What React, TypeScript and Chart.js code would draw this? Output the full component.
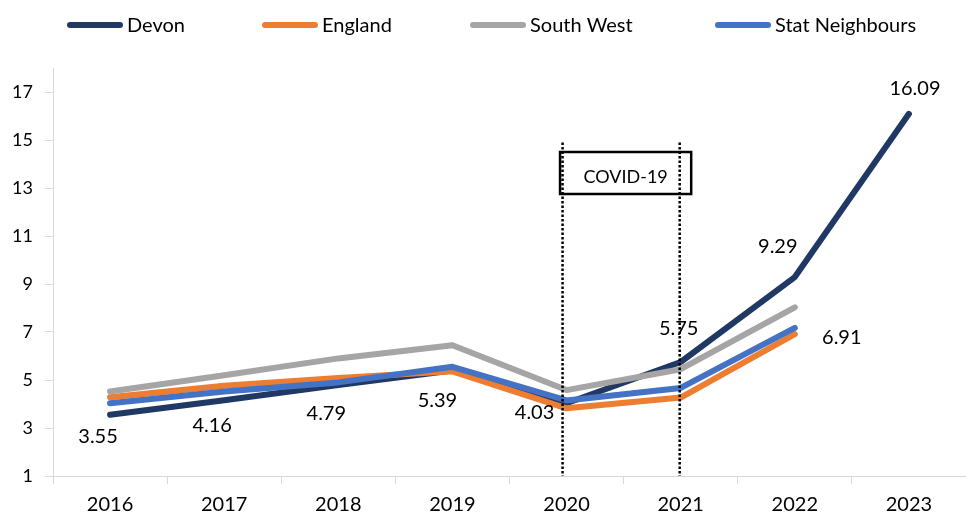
import React, { useEffect, useRef } from 'react';
import { Chart, registerables } from 'chart.js';

Chart.register(...registerables);

const years = ['2016', '2017', '2018', '2019', '2020', '2021', '2022', '2023'];
const devon = [3.55, 4.16, 4.79, 5.39, 4.03, 5.75, 9.29, 16.09];
const england = [4.28, 4.76, 5.08, 5.36, 3.82, 4.27, 6.91, null];
const southWest = [4.52, 5.2, 5.9, 6.45, 4.58, 5.45, 8.03, null];
const statNeighbours = [4.03, 4.52, 4.9, 5.55, 4.15, 4.67, 7.17, null];
const yTicks = [1, 3, 5, 7, 9, 11, 13, 15, 17];
const covidLabel = 'COVID-19';
const covidStart = 4; // index of 2020
const covidEnd = 5; // index of 2021

const FONT = 'Lato, "Open Sans", sans-serif';

export default function App() {
  const ref = useRef<HTMLCanvasElement>(null);

  useEffect(() => {
    document.body.style.margin = '0';
    const canvas = ref.current!;

    const legendStarts = [67, 262, 470, 715];
    const legendPlugin = {
      id: 'customLegend',
      afterDraw(chart: any) {
        const c = chart.ctx;
        c.save();
        c.font = `20px ${FONT}`;
        const y = 25;
        chart.data.datasets.forEach((d: any, i: number) => {
          const x = legendStarts[i];
          c.strokeStyle = d.borderColor;
          c.lineWidth = 6;
          c.lineCap = 'round';
          c.beginPath();
          c.moveTo(x + 3, y);
          c.lineTo(x + 53, y);
          c.stroke();
          c.fillStyle = '#000';
          c.textBaseline = 'middle';
          c.textAlign = 'left';
          c.fillText(d.label, x + 60, y + 1);
        });
        c.restore();
      },
    };

    const covidPlugin = {
      id: 'covid',
      afterDatasetsDraw(chart: any) {
        const c = chart.ctx;
        const xs = chart.scales.x;
        const ys = chart.scales.y;
        const x1 = xs.getPixelForValue(covidStart) - 4;
        const x2 = xs.getPixelForValue(covidEnd) - 1;
        const bottom = chart.chartArea.bottom;
        const top = ys.getPixelForValue(14.9);
        c.save();
        const bl = x1 - 2.5;
        const br = x2 + 11.5;
        const bt = ys.getPixelForValue(14.5);
        const bb = ys.getPixelForValue(12.75);
        c.strokeStyle = '#000';
        c.lineWidth = 2.5;
        c.setLineDash([]);
        c.strokeRect(bl, bt, br - bl, bb - bt);
        c.fillStyle = '#000';
        c.font = `18px ${FONT}`;
        c.textAlign = 'center';
        c.textBaseline = 'middle';
        c.fillText(covidLabel, (bl + br) / 2, (bt + bb) / 2 + 4);
        c.lineWidth = 2.5;
        c.setLineDash([2.5, 2]);
        [x1, x2].forEach((x) => {
          c.beginPath();
          c.moveTo(x, top);
          c.lineTo(x, bottom);
          c.stroke();
        });
        c.restore();
      },
    };

    const labelOffsets: [number, number][] = [
      [-12, 22], [-12, 25], [-12, 29], [-15, 30], [-32, 9], [-2, -33], [-17, -30], [6, -25],
    ];
    const labelsPlugin = {
      id: 'dataLabels',
      afterDatasetsDraw(chart: any) {
        const c = chart.ctx;
        c.save();
        c.font = `20px ${FONT}`;
        c.fillStyle = '#000';
        c.textAlign = 'center';
        c.textBaseline = 'middle';
        const meta = chart.getDatasetMeta(0);
        meta.data.forEach((pt: any, i: number) => {
          const [dx, dy] = labelOffsets[i];
          c.fillText(devon[i].toFixed(2), pt.x + dx, pt.y + dy);
        });
        const em = chart.getDatasetMeta(1);
        const p = em.data[6];
        c.fillText((england[6] as number).toFixed(2), p.x + 47, p.y + 3);
        c.restore();
      },
    };

    const base = {
      borderWidth: 6,
      pointRadius: 0,
      pointHoverRadius: 0,
      borderCapStyle: 'round',
      borderJoinStyle: 'round',
      tension: 0,
      fill: false,
    };

    const chart = new Chart(canvas, {
      type: 'line',
      data: {
        labels: years,
        datasets: [
          { ...base, label: 'Devon', data: devon, borderColor: '#203864', order: 3 },
          { ...base, label: 'England', data: england, borderColor: '#ED7D31', order: 2 },
          { ...base, label: 'South West', data: southWest, borderColor: '#A5A5A5', order: 1 },
          { ...base, label: 'Stat Neighbours', data: statNeighbours, borderColor: '#4472C4', order: 0 },
        ] as any,
      },
      options: {
        animation: false,
        responsive: false,
        layout: { padding: { top: 68, right: 0, left: 0, bottom: 0 } },
        plugins: { legend: { display: false }, tooltip: { enabled: false } },
        scales: {
          x: {
            offset: true,
            grid: { offset: true, drawOnChartArea: false, tickLength: 8, color: '#d9d9d9' },
            border: { color: '#d9d9d9' },
            ticks: { font: { family: FONT, size: 20 }, color: '#000', padding: 9, maxRotation: 0 },
            afterFit(s: any) {
              s.height = 37;
            },
          },
          y: {
            min: 1,
            max: 18,
            afterBuildTicks(s: any) {
              s.ticks = yTicks.map((v) => ({ value: v }));
            },
            grid: { drawOnChartArea: false, tickLength: 8, color: '#d9d9d9' },
            border: { color: '#d9d9d9' },
            ticks: { font: { family: FONT, size: 18 }, color: '#000', padding: 12 },
            afterFit(s: any) {
              s.width = 53;
            },
          },
        },
      } as any,
      plugins: [legendPlugin, covidPlugin, labelsPlugin],
    });

    return () => chart.destroy();
  }, []);

  return (
    <div style={{ width: 966, height: 513, background: '#fff' }}>
      <canvas ref={ref} width={966} height={513} />
    </div>
  );
}
